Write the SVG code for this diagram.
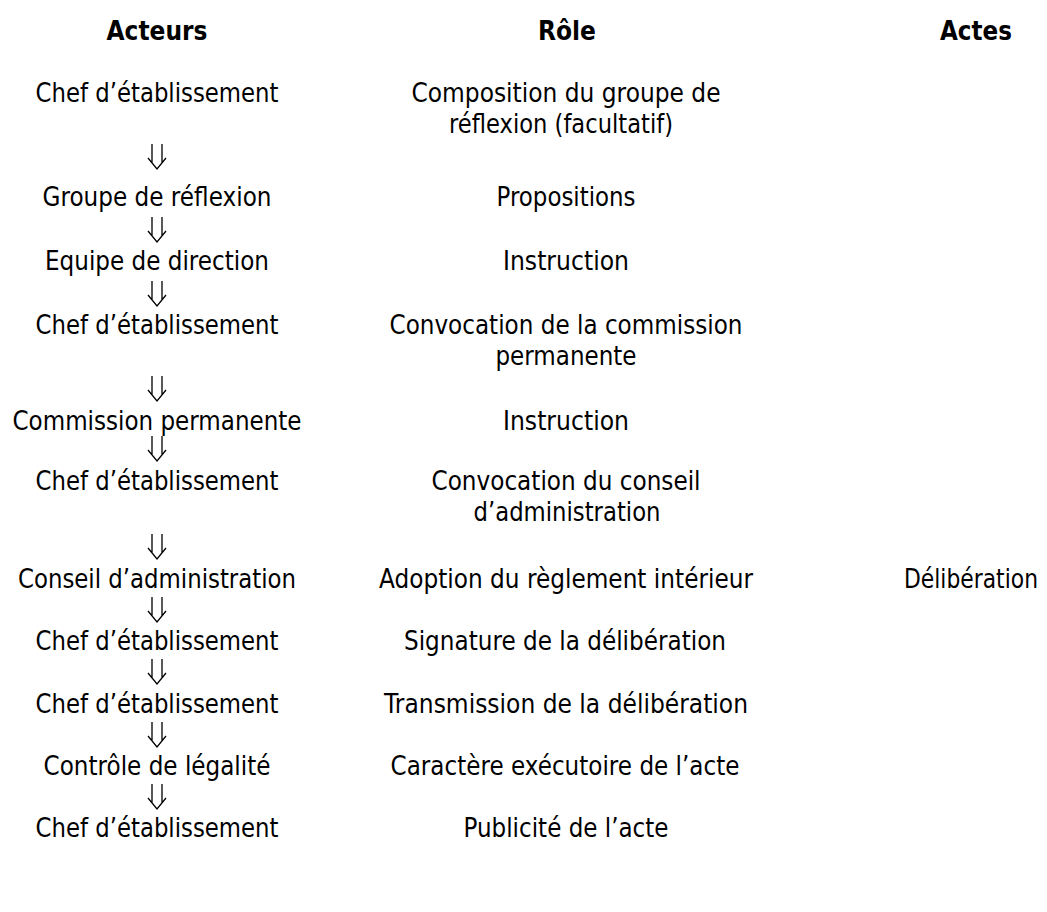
<svg xmlns="http://www.w3.org/2000/svg" xmlns:xlink="http://www.w3.org/1999/xlink" width="1047" height="912" viewBox="0 0 1047 912">
<style>
text{font-family:"DejaVu Sans","Liberation Sans",sans-serif;font-size:26.67px;fill:#000;text-anchor:middle}
.h{font-weight:bold}
.ar{fill:none;stroke:#000;stroke-width:1.3}
</style>
<defs>
<g id="dn"><path class="ar" d="M-5,-25V-6M5,-25V-6M-9,-11L0,0L9,-11"/></g>
</defs>
<rect width="1047" height="912" fill="#fff"/>
<g id="headers">
<text class="h" x="157" y="40" textLength="101" lengthAdjust="spacingAndGlyphs">Acteurs</text>
<text class="h" x="567" y="40" textLength="58" lengthAdjust="spacingAndGlyphs">Rôle</text>
<text class="h" x="976" y="40" textLength="72" lengthAdjust="spacingAndGlyphs">Actes</text>
</g>
<g id="connectors">
<use xlink:href="#dn" x="157" y="169"/>
<use xlink:href="#dn" x="157" y="242"/>
<use xlink:href="#dn" x="157" y="306"/>
<use xlink:href="#dn" x="157" y="401"/>
<use xlink:href="#dn" x="157" y="461"/>
<use xlink:href="#dn" x="157" y="559"/>
<use xlink:href="#dn" x="157" y="622"/>
<use xlink:href="#dn" x="157" y="684"/>
<use xlink:href="#dn" x="157" y="747"/>
<use xlink:href="#dn" x="157" y="809"/>
</g>
<g id="n1">
<text x="157" y="102" textLength="243" lengthAdjust="spacingAndGlyphs">Chef d’établissement</text>
<text x="566" y="102" textLength="309" lengthAdjust="spacingAndGlyphs">Composition du groupe de</text>
<text x="561" y="133" textLength="224" lengthAdjust="spacingAndGlyphs">réflexion (facultatif)</text>
</g>
<g id="n2">
<text x="157" y="206" textLength="229" lengthAdjust="spacingAndGlyphs">Groupe de réflexion</text>
<text x="566" y="206" textLength="139" lengthAdjust="spacingAndGlyphs">Propositions</text>
</g>
<g id="n3">
<text x="157" y="270" textLength="224" lengthAdjust="spacingAndGlyphs">Equipe de direction</text>
<text x="566" y="270" textLength="126" lengthAdjust="spacingAndGlyphs">Instruction</text>
</g>
<g id="n4">
<text x="157" y="334" textLength="243" lengthAdjust="spacingAndGlyphs">Chef d’établissement</text>
<text x="566" y="334" textLength="353" lengthAdjust="spacingAndGlyphs">Convocation de la commission</text>
<text x="566" y="365" textLength="141" lengthAdjust="spacingAndGlyphs">permanente</text>
</g>
<g id="n5">
<text x="157" y="430" textLength="289" lengthAdjust="spacingAndGlyphs">Commission permanente</text>
<text x="566" y="430" textLength="126" lengthAdjust="spacingAndGlyphs">Instruction</text>
</g>
<g id="n6">
<text x="157" y="490" textLength="243" lengthAdjust="spacingAndGlyphs">Chef d’établissement</text>
<text x="566" y="490" textLength="269" lengthAdjust="spacingAndGlyphs">Convocation du conseil</text>
<text x="567" y="521" textLength="187" lengthAdjust="spacingAndGlyphs">d’administration</text>
</g>
<g id="n7">
<text x="157" y="588" textLength="278" lengthAdjust="spacingAndGlyphs">Conseil d’administration</text>
<text x="566" y="588" textLength="374" lengthAdjust="spacingAndGlyphs">Adoption du règlement intérieur</text>
<text transform="translate(971,588) scale(0.82,1)" x="0" y="0">Délibération</text>
</g>
<g id="n8">
<text x="157" y="650" textLength="243" lengthAdjust="spacingAndGlyphs">Chef d’établissement</text>
<text x="565" y="650" textLength="322" lengthAdjust="spacingAndGlyphs">Signature de la délibération</text>
</g>
<g id="n9">
<text x="157" y="713" textLength="243" lengthAdjust="spacingAndGlyphs">Chef d’établissement</text>
<text x="566" y="713" textLength="364" lengthAdjust="spacingAndGlyphs">Transmission de la délibération</text>
</g>
<g id="n10">
<text x="157" y="775" textLength="227" lengthAdjust="spacingAndGlyphs">Contrôle de légalité</text>
<text x="565" y="775" textLength="349" lengthAdjust="spacingAndGlyphs">Caractère exécutoire de l’acte</text>
</g>
<g id="n11">
<text x="157" y="837" textLength="243" lengthAdjust="spacingAndGlyphs">Chef d’établissement</text>
<text x="566" y="837" textLength="205" lengthAdjust="spacingAndGlyphs">Publicité de l’acte</text>
</g>
</svg>
